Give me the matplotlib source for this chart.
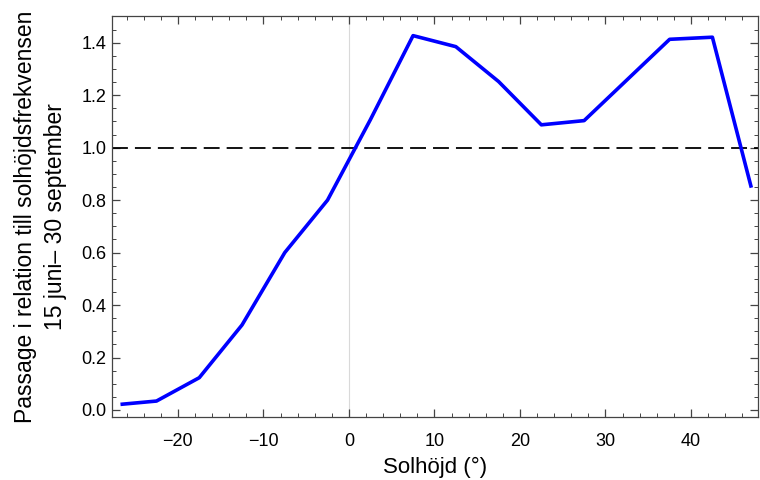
import numpy as np
import matplotlib.pyplot as plt
from matplotlib.ticker import MultipleLocator

plt.rcParams['font.family'] = ['Liberation Sans', 'DejaVu Sans']

# Solhöjd (mitt i varje intervall) och relativ passagefrekvens
solhojd = [-26.5, -22.5, -17.5, -12.5, -7.5, -2.5, 2.5, 7.5, 12.5, 17.5,
           22.5, 27.5, 32.5, 37.5, 42.5, 47.0]
passage = [0.022, 0.034, 0.123, 0.324, 0.60, 0.80, 1.106, 1.427, 1.385, 1.252,
           1.087, 1.103, 1.258, 1.413, 1.421, 0.854]

fig = plt.figure(figsize=(7.6, 4.8), dpi=100)
ax = fig.add_axes([0.1474, 0.1306, 0.8496, 0.8367])

ax.axvline(0, color='#d9d9d9', lw=0.8, zorder=1)
ax.axhline(1.0, color='black', lw=1.3, ls=(0, (8.8, 3.9)), zorder=2)
ax.plot(solhojd, passage, color='#0000ff', lw=2.6, zorder=3)

ax.set_xlim(-27.7, 47.8)
ax.set_ylim(-0.028, 1.503)

ax.xaxis.set_major_locator(MultipleLocator(10))
ax.xaxis.set_minor_locator(MultipleLocator(2))
ax.yaxis.set_major_locator(MultipleLocator(0.2))
ax.yaxis.set_minor_locator(MultipleLocator(0.05))
ax.yaxis.set_major_formatter(plt.FuncFormatter(lambda v, p: f"{v:.1f}"))
ax.xaxis.set_major_formatter(plt.FuncFormatter(lambda v, p: f"{v:.0f}".replace('-', '\u2212')))

fc = '#444444'
for s in ax.spines.values():
    s.set_color(fc)
    s.set_linewidth(0.9)
ax.tick_params(which='both', direction='in', top=True, right=True, color=fc,
               labelsize=13, labelcolor='black')
ax.tick_params(axis='x', which='major', pad=11)
ax.tick_params(axis='y', which='major', pad=4)
ax.tick_params(which='major', length=6, width=0.9)
ax.tick_params(which='minor', length=3, width=0.7)

ax.set_xlabel('Solhöjd (°)', fontsize=16, labelpad=5)
ax.set_ylabel('Passage i relation till solhöjdsfrekvensen\n15 juni– 30 september',
              fontsize=16.5, labelpad=10, linespacing=1.4)

fig.savefig('out.png', dpi=100)
